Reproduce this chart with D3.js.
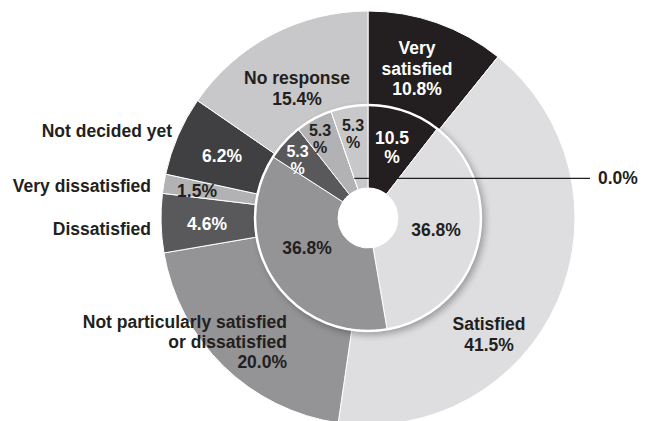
<!DOCTYPE html>
<html>
<head>
<meta charset="utf-8">
<script src="https://cdn.jsdelivr.net/npm/d3@7"></script>
<style>
  html, body { margin: 0; padding: 0; background: #fff; }
  svg { display: block; }
  text { font-family: "Liberation Sans", Arial, Helvetica, sans-serif; font-weight: bold; }
</style>
</head>
<body>
<script>
// Survey responses: outer ring and inner ring share the same categories
const categories = [
  "Very satisfied",
  "Satisfied",
  "Not particularly satisfied or dissatisfied",
  "Dissatisfied",
  "Very dissatisfied",
  "Not decided yet",
  "No response"
];
const outerValues = [10.8, 41.5, 20.0, 4.6, 1.5, 6.2, 15.4];
const innerValues = [10.5, 36.8, 36.8, 5.3, 5.3, 0.0, 5.3];

// Grey scale fills per category
const fills = ["#231f20", "#dedee0", "#949497", "#59595b", "#b2b2b4", "#404042", "#c8c8ca"];
const darkText = "#231f20";

const W = 645, H = 421;
const cx = 368, cy = 218;
const R = { hole: 30, innerOuter: 113, outerOuter: 207 };
const fontSize = 17.5;
const smallSize = 16;

const svg = d3.select("body").append("svg")
  .attr("width", W).attr("height", H);

const defs = svg.append("defs");
const shadow = defs.append("filter").attr("id", "soft")
  .attr("x", "-30%").attr("y", "-30%").attr("width", "160%").attr("height", "160%");
shadow.append("feGaussianBlur").attr("stdDeviation", 3.5);

const g = svg.append("g").attr("transform", `translate(${cx},${cy})`);

const pie = d3.pie().sort(null).value(d => d);
const outerArcs = pie(outerValues);
const innerArcs = pie(innerValues);

const outerArc = d3.arc().innerRadius(R.innerOuter - 2).outerRadius(R.outerOuter);
const innerArc = d3.arc().innerRadius(R.hole).outerRadius(R.innerOuter);

// Outer ring
g.append("g").selectAll("path").data(outerArcs).join("path")
  .attr("d", outerArc)
  .attr("fill", (d, i) => fills[i])
  .attr("stroke", "#fff").attr("stroke-width", 1);

// Soft shadow cast by the inner disc
g.append("circle")
  .attr("cx", 3).attr("cy", 3).attr("r", R.innerOuter + 1)
  .attr("fill", "#000").attr("opacity", 0.3)
  .attr("filter", "url(#soft)");

// Inner ring
g.append("g").selectAll("path").data(innerArcs).join("path")
  .attr("d", innerArc)
  .attr("fill", (d, i) => fills[i])
  .attr("stroke", "#fff").attr("stroke-width", 1);

// Centre hole
g.append("circle").attr("r", R.hole).attr("fill", "#fff");

// White rim around the inner ring
g.append("circle").attr("r", R.innerOuter)
  .attr("fill", "none").attr("stroke", "#fff").attr("stroke-width", 2.5);

// Leader for the zero-width inner slice
const zero = innerArcs[5];
const leadR = 42;
const lx = leadR * Math.sin(zero.startAngle), ly = -leadR * Math.cos(zero.startAngle);
g.append("line")
  .attr("x1", lx).attr("y1", ly).attr("x2", 222).attr("y2", ly)
  .attr("stroke", darkText).attr("stroke-width", 1.2);

const pct = v => d3.format(".1f")(v) + "%";

// Label layout (offsets from the ring centre)
const outerLabels = [
  { i: 0, lines: v => ["Very", "satisfied", pct(v)], x: 49, y: -149.5, lh: 20.5, fill: "#fff", anchor: "middle" },
  { i: 1, lines: v => ["Satisfied", pct(v)], x: 121, y: 116.5, lh: 21, fill: darkText, anchor: "middle" },
  { i: 2, lines: v => ["Not particularly satisfied", "or dissatisfied", pct(v)], x: -81, y: 124, lh: 20, fill: darkText, anchor: "end" },
  { i: 3, lines: v => [pct(v)], x: -161, y: 6, lh: 20, fill: "#fff", anchor: "middle" },
  { i: 4, lines: v => [pct(v)], x: -171, y: -27, lh: 20, fill: darkText, anchor: "middle" },
  { i: 5, lines: v => [pct(v)], x: -146, y: -62.5, lh: 20, fill: "#fff", anchor: "middle" },
  { i: 6, lines: v => ["No response", pct(v)], x: -71, y: -130, lh: 21, fill: darkText, anchor: "middle" }
];
const nameLabels = [
  { i: 3, x: -217, y: 11 },
  { i: 4, x: -217, y: -32 },
  { i: 5, x: -196, y: -87 }
];
const innerLabels = [
  { i: 0, lines: v => [d3.format(".1f")(v), "%"], x: 24, y: -70.5, lh: 19, fill: "#fff", anchor: "middle" },
  { i: 1, lines: v => [pct(v)], x: 68, y: 12, lh: 20, fill: darkText, anchor: "middle" },
  { i: 2, lines: v => [pct(v)], x: -61, y: 30, lh: 20, fill: darkText, anchor: "middle" },
  { i: 3, lines: v => [d3.format(".1f")(v), "%"], x: -70.5, y: -58.5, lh: 17, fill: "#fff", anchor: "middle", size: smallSize },
  { i: 4, lines: v => [d3.format(".1f")(v), "%"], x: -48, y: -79.5, lh: 17, fill: darkText, anchor: "middle", size: smallSize },
  { i: 5, lines: v => [pct(v)], x: 230, y: -40, lh: 20, fill: darkText, anchor: "start" },
  { i: 6, lines: v => [d3.format(".1f")(v), "%"], x: -15, y: -84, lh: 17, fill: darkText, anchor: "middle", size: smallSize }
];

function block(layer, spec, values) {
  const lines = spec.lines(values[spec.i]);
  const t = layer.append("text")
    .attr("text-anchor", spec.anchor)
    .attr("fill", spec.fill)
    .attr("font-size", spec.size || fontSize);
  lines.forEach((s, k) => {
    t.append("tspan")
      .attr("x", spec.x)
      .attr("y", spec.y + (k - (lines.length - 1) / 2) * spec.lh)
      .attr("dy", "0.36em")
      .text(s);
  });
}

const labels = g.append("g");
outerLabels.forEach(s => block(labels, s, outerValues));
innerLabels.forEach(s => block(labels, s, innerValues));
nameLabels.forEach(s => {
  labels.append("text")
    .attr("x", s.x).attr("y", s.y).attr("dy", "0.36em")
    .attr("text-anchor", "end")
    .attr("fill", darkText)
    .attr("font-size", fontSize)
    .text(categories[s.i]);
});
</script>
</body>
</html>
